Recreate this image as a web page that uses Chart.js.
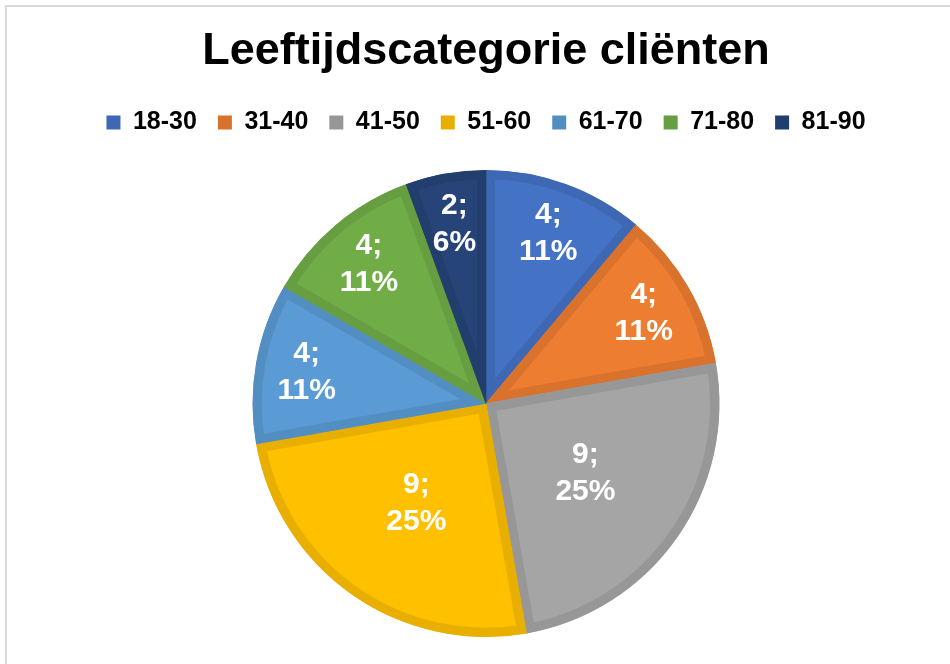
<!DOCTYPE html>
<html>
<head>
<meta charset="utf-8">
<script src="https://cdn.jsdelivr.net/npm/chart.js@4.4.1/dist/chart.umd.min.js"></script>
<style>
  html, body { margin: 0; padding: 0; background: #fff; }
  #wrap { position: relative; width: 950px; height: 664px; overflow: hidden; }
  #frame { position: absolute; left: 5px; top: 5px; width: 980px; height: 700px; border: 2px solid #d9d9d9; box-sizing: border-box; }
  #myChart { position: absolute; left: 0; top: 0; }
</style>
</head>
<body>
<div id="wrap">
  <div id="frame"></div>
  <canvas id="myChart" width="950" height="664"></canvas>
</div>
<script>
// chart data
var categories = ["18-30", "31-40", "41-50", "51-60", "61-70", "71-80", "81-90"];
var clients = [4, 4, 9, 9, 4, 4, 2];

var fillColors = ["#4472C4", "#ED7D31", "#A5A5A5", "#FFC000", "#5B9BD5", "#70AD47", "#264478"];
var edgeColors = ["#3E68B4", "#D9722D", "#979797", "#E8AF00", "#538EC3", "#669E41", "#223E6D"];

Chart.defaults.font.family = "'Liberation Sans', Arial, sans-serif";

// Excel-style labels "value;\npct%" inside each slice
var sliceLabels = {
  id: "sliceLabels",
  afterDatasetsDraw: function (chart) {
    var ctx = chart.ctx;
    var meta = chart.getDatasetMeta(0);
    var data = chart.data.datasets[0].data;
    var total = data.reduce(function (a, b) { return a + b; }, 0);
    ctx.save();
    ctx.fillStyle = "#fff";
    ctx.font = "bold 30px 'Liberation Sans', Arial, sans-serif";
    ctx.textAlign = "center";
    ctx.textBaseline = "middle";
    meta.data.forEach(function (arc, i) {
      var p = arc.getProps(["x", "y", "startAngle", "endAngle", "outerRadius"], true);
      var mid = (p.startAngle + p.endAngle) / 2;
      var share = data[i] / total;
      var r = p.outerRadius * (share >= 0.2 ? 0.52 : 0.78);
      var cx = p.x + Math.cos(mid) * r;
      var cy = p.y + Math.sin(mid) * r;
      ctx.fillText(data[i] + ";", cx, cy - 18);
      ctx.fillText(Math.round(share * 100) + "%", cx, cy + 19);
    });
    ctx.restore();
  }
};

// extra room under the legend
var legendGap = {
  id: "legendGap",
  beforeInit: function (chart) {
    var fit = chart.legend.fit;
    chart.legend.fit = function () {
      fit.bind(chart.legend)();
      this.height += 25;
    };
  }
};

var ctx = document.getElementById("myChart").getContext("2d");
var chart = new Chart(ctx, {
  type: "pie",
  data: {
    labels: categories,
    datasets: [
      {
        data: clients,
        backgroundColor: fillColors,
        borderColor: edgeColors,
        borderWidth: 9,
        borderAlign: "inner",
      },
    ],
  },
  options: {
    responsive: false,
    animation: false,
    layout: { padding: { left: 22, right: 0, top: 0, bottom: 27 } },
    plugins: {
      title: {
        display: true,
        text: "Leeftijdscategorie cliënten",
        color: "#000",
        font: { size: 45, weight: "bold" },
        padding: { top: 25, bottom: 10 },
      },
      legend: {
        position: "top",
        labels: {
          color: "#000",
          font: { size: 25, weight: "bold" },
          boxWidth: 14,
          boxHeight: 14,
          padding: 21,
          generateLabels: function (chart) {
            var items = Chart.overrides.pie.plugins.legend.labels.generateLabels(chart);
            items.forEach(function (item, i) {
              item.fillStyle = edgeColors[i];
              item.lineWidth = 0;
            });
            return items;
          },
        },
      },
      tooltip: { enabled: false },
    },
  },
  plugins: [sliceLabels, legendGap],
});
</script>
</body>
</html>
